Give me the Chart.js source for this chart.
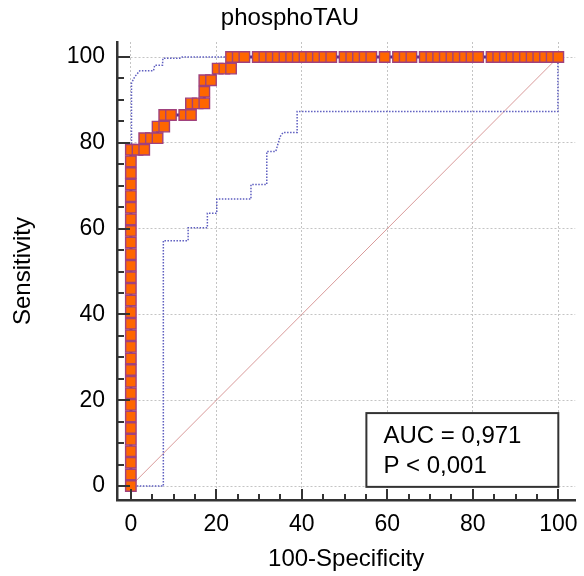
<!DOCTYPE html>
<html>
<head>
<meta charset="utf-8">
<script src="https://cdn.jsdelivr.net/npm/chart.js@4/dist/chart.umd.min.js"></script>
<style>
  html, body { margin: 0; padding: 0; background: #fff; }
  canvas { display: block; }
</style>
</head>
<body>
<canvas id="c" width="584" height="576"></canvas>
<script>
// ---- Data ----
const chartTitle = 'phosphoTAU';
const xAxisTitle = '100-Specificity';
const yAxisTitle = 'Sensitivity';
const tickValues = [0, 20, 40, 60, 80, 100];
const aucText = ['AUC = 0,971', 'P < 0,001'];

// ROC curve points (100-Specificity, Sensitivity)
const rocX = [
  0,0,0,0,0,0,0,0,0,0,0,0,0,0,0,0,0,0,0,0,0,0,0,0,0,0,0,0,0,0,
  1.56, 3.13,
  3.13, 4.69, 6.25,
  6.25, 7.81,
  7.81, 9.38, 12.50, 14.06,
  14.06, 15.63, 17.19,
  17.19,
  17.19, 18.75,
  20.31, 21.88, 23.44,
  23.44, 25.00, 26.56, 29.69, 31.25, 32.81, 34.38, 35.94, 37.50, 39.06, 40.63, 42.19, 43.75, 45.31, 46.88,
  50.00, 51.56, 53.13, 54.69, 56.25, 59.38, 62.50, 64.06, 65.63,
  68.75, 70.31, 71.88, 73.44, 75.00, 76.56, 78.13, 79.69, 81.25,
  84.38, 85.94, 87.50, 89.06, 90.63, 92.19, 93.75, 95.31, 96.88, 98.44, 100
];
const rocY = [
  0, 2.70, 5.41, 8.11, 10.81, 13.51, 16.22, 18.92, 21.62, 24.32, 27.03, 29.73, 32.43, 35.14, 37.84,
  40.54, 43.24, 45.95, 48.65, 51.35, 54.05, 56.76, 59.46, 62.16, 64.86, 67.57, 70.27, 72.97, 75.68, 78.38,
  78.38, 78.38,
  81.08, 81.08, 81.08,
  83.78, 83.78,
  86.49, 86.49, 86.49, 86.49,
  89.19, 89.19, 89.19,
  91.89,
  94.59, 94.59,
  97.30, 97.30, 97.30,
  100,100,100,100,100,100,100,100,100,100,100,100,100,100,100,
  100,100,100,100,100,100,100,100,100,
  100,100,100,100,100,100,100,100,100,
  100,100,100,100,100,100,100,100,100,100,100
];

// Upper 95% confidence bound
const upperX = [0.15, 0.15, 0.9, 2.1, 5.3, 5.6, 7.4, 7.5, 11.7, 12.0, 100];
const upperY = [0, 93.9, 95.4, 96.8, 96.8, 98.1, 98.1, 99.7, 99.7, 100, 100];

// Lower 95% confidence bound
const lowerX = [0, 7.6, 7.6, 13.4, 13.4, 17.9, 17.9, 20.1, 20.1, 28.1, 28.1, 31.8, 31.8, 33.9, 34.9, 35.6, 38.9, 38.9, 99.9, 99.9];
const lowerY = [0, 0, 57.2, 57.2, 60.2, 60.2, 63.6, 63.6, 66.9, 66.9, 70.3, 70.3, 78.0, 78.0, 81.4, 82.4, 82.4, 87.3, 87.3, 100];

// Reference diagonal
const diagX = [0, 100];
const diagY = [0, 100];

// Legend box extent in data units
const boxX = [55.1, 100];
const boxY = [-0.2, 17.0];

const FONT = "'Liberation Sans', Arial, Helvetica, sans-serif";
const toPts = (xs, ys) => xs.map((x, i) => ({ x: x, y: ys[i] }));

const innerTicks = {
  id: 'innerTicks',
  afterDraw(chart) {
    const ctx = chart.ctx;
    const xs = chart.scales.x, ys = chart.scales.y;
    const a = chart.chartArea;
    ctx.save();
    ctx.strokeStyle = '#333';
    ctx.lineWidth = 2;
    for (let v = 0; v <= 100; v += 5) {
      const major = v % 20 === 0;
      const px = Math.round(xs.getPixelForValue(v));
      ctx.beginPath();
      ctx.moveTo(px, a.bottom);
      ctx.lineTo(px, a.bottom - (major ? 11 : 6));
      ctx.stroke();
      const py = Math.round(ys.getPixelForValue(v));
      ctx.beginPath();
      ctx.moveTo(a.left, py);
      ctx.lineTo(a.left + (major ? 13 : 7), py);
      ctx.stroke();
    }
    ctx.restore();
  }
};

const aucBox = {
  id: 'aucBox',
  afterDatasetsDraw(chart) {
    const ctx = chart.ctx;
    const xs = chart.scales.x, ys = chart.scales.y;
    const l = xs.getPixelForValue(boxX[0]), r = xs.getPixelForValue(boxX[1]);
    const t = ys.getPixelForValue(boxY[1]), b = ys.getPixelForValue(boxY[0]);
    ctx.save();
    ctx.fillStyle = '#fff';
    ctx.fillRect(l, t, r - l, b - t);
    ctx.strokeStyle = '#333';
    ctx.lineWidth = 2;
    ctx.strokeRect(l, t, r - l, b - t);
    ctx.fillStyle = '#000';
    ctx.font = '24px ' + FONT;
    ctx.textBaseline = 'alphabetic';
    ctx.textAlign = 'left';
    ctx.fillText(aucText[0], l + 17, t + 30);
    ctx.fillText(aucText[1], l + 17, t + 59.5);
    ctx.restore();
  }
};

const setTicks = (scale) => { scale.ticks = tickValues.map(v => ({ value: v })); };

new Chart(document.getElementById('c'), {
  type: 'scatter',
  data: {
    datasets: [
      {
        label: 'ROC',
        data: toPts(rocX, rocY),
        showLine: true,
        borderColor: '#4e2f8e',
        borderWidth: 3,
        pointStyle: 'rect',
        pointRadius: 7.4,
        pointBackgroundColor: '#ff6600',
        pointBorderColor: '#a0417d',
        pointBorderWidth: 1.4,
        order: 0
      },
      {
        label: 'upper',
        data: toPts(upperX, upperY),
        showLine: true,
        borderColor: '#5e5ec0',
        borderWidth: 1.5,
        borderDash: [1.5, 1.5],
        pointRadius: 0,
        order: 1
      },
      {
        label: 'lower',
        data: toPts(lowerX, lowerY),
        showLine: true,
        borderColor: '#5e5ec0',
        borderWidth: 1.5,
        borderDash: [1.5, 1.5],
        pointRadius: 0,
        order: 2
      },
      {
        label: 'diag',
        data: toPts(diagX, diagY),
        showLine: true,
        borderColor: '#d99a9a',
        borderWidth: 1,
        pointRadius: 0,
        order: 3
      }
    ]
  },
  options: {
    responsive: false,
    animation: false,
    events: [],
    layout: { padding: { left: 0, right: 4, top: 0, bottom: 0 } },
    plugins: {
      legend: { display: false },
      tooltip: { enabled: false },
      title: {
        display: true,
        text: chartTitle,
        color: '#000',
        font: { family: FONT, size: 24, weight: 'normal', lineHeight: 1.2 },
        padding: { top: 4, bottom: 9.2 }
      }
    },
    scales: {
      x: {
        type: 'linear',
        min: -3.24,
        max: 103.95,
        afterBuildTicks: setTicks,
        afterFit: (s) => { s.height = 76; s.paddingLeft = 0; s.paddingRight = 0; },
        grid: { color: '#c4c4c4', lineWidth: 1, drawTicks: false },
        border: { display: true, color: '#333', width: 2.5, dash: [2, 2] },
        ticks: {
          color: '#000', padding: 11, autoSkip: false, maxRotation: 0, minRotation: 0,
          font: { family: FONT, size: 23 },
          callback: (v) => String(v)
        },
        title: {
          display: true, text: xAxisTitle, color: '#000',
          font: { family: FONT, size: 24, lineHeight: 1.2 },
          padding: { top: 0, bottom: 2 }
        }
      },
      y: {
        type: 'linear',
        min: -3.26,
        max: 103.5,
        afterBuildTicks: setTicks,
        afterFit: (s) => { s.width = 117; s.paddingTop = 0; s.paddingBottom = 0; },
        grid: { color: '#c4c4c4', lineWidth: 1, drawTicks: false },
        border: { display: true, color: '#333', width: 2.5, dash: [2, 2] },
        ticks: {
          color: '#000', padding: 12, autoSkip: false,
          font: { family: FONT, size: 23 },
          callback: (v) => String(v)
        },
        title: {
          display: true, text: yAxisTitle, color: '#000',
          font: { family: FONT, size: 24, lineHeight: 1.2 },
          padding: { top: 9, bottom: 0 }
        }
      }
    }
  },
  plugins: [aucBox, innerTicks]
});
</script>
</body>
</html>
